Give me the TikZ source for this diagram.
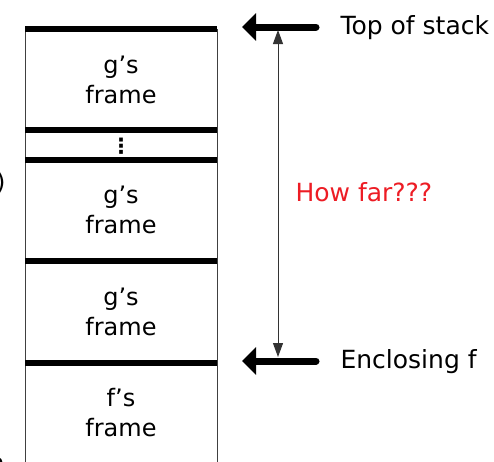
\documentclass[tikz,border=0pt]{standalone}
\usepackage{fontspec}
\setmainfont{DejaVu Sans}
\usetikzlibrary{arrows.meta}
\definecolor{howred}{RGB}{237,28,36}
\begin{document}
\begin{tikzpicture}[x=1pt,y=-1pt,
  divider/.style={line width=6pt},
  wall/.style={line width=1pt, black!75},
  pointer/.style={line width=7pt, line cap=round, -{Triangle[length=14pt,width=27pt]}},
  span/.style={line width=1pt, black!80,
    {Triangle[length=14pt,width=10pt]}-{Triangle[length=14pt,width=10pt]}},
  frametxt/.style={font=\fontsize{24}{30}\selectfont, align=center},
  sidetxt/.style={font=\fontsize{25}{30}\selectfont, anchor=base west},
]
% canvas
\fill[white] (0,0) rectangle (494,461);
\useasboundingbox (0,0) rectangle (494,461);

% side walls of the stack
\coordinate (wl top) at (25,29);  \coordinate (wl bot) at (25,470);
\coordinate (wr top) at (217,29); \coordinate (wr bot) at (217,470);
\draw[wall] (wl top) -- (wl bot);
\draw[wall] (wr top) -- (wr bot);

% frame boundaries
\foreach \y [count=\i] in {29,130,160,261,363} {
  \coordinate (dl\i) at (25,\y);
  \coordinate (dr\i) at (217,\y);
  \draw[divider] (dl\i) -- (dr\i);
}

% frame contents
\node[frametxt] (g1) at (121,80)  {g’s\\frame};
\node[font=\fontsize{21}{21}\selectfont\bfseries] (dots) at (121,146) {⋮};
\node[frametxt] (g2) at (121,210) {g’s\\frame};
\node[frametxt] (g3) at (121,312) {g’s\\frame};
\node[frametxt] (f1) at (121,413) {f’s\\frame};

% text running in from the left edge
\node[font=\fontsize{24}{30}\selectfont, anchor=base east] (paren) at (9,190) {)};
\node[font=\fontsize{24}{30}\selectfont, anchor=base east] (frag) at (8,471) {m};

% pointers into the stack
\coordinate (top tail) at (316,27);  \coordinate (top tip) at (242,27);
\coordinate (enc tail) at (316,361); \coordinate (enc tip) at (242,361);
\draw[pointer] (top tail) -- (top tip);
\draw[pointer] (enc tail) -- (enc tip);
\node[sidetxt] (toplab) at (337,34) {Top of stack};
\node[sidetxt] (enclab) at (337,368) {Enclosing f};

% distance between the two pointers
\coordinate (span top) at (278,30);
\coordinate (span bot) at (278,357);
\draw[span] (span top) -- (span bot);
\node[sidetxt, text=howred] (howfar) at (292,201) {How far???};
\end{tikzpicture}
\end{document}
